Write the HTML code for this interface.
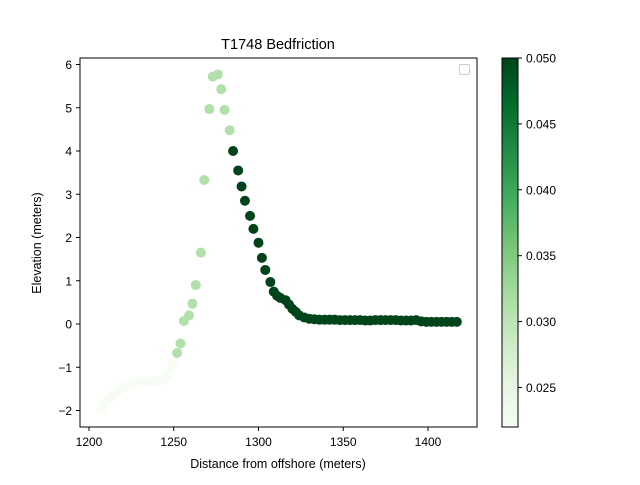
<!DOCTYPE html>
<html><head><meta charset="utf-8"><style>body{margin:0;background:#fff}svg{font-family:"Liberation Sans","DejaVu Sans",sans-serif}</style></head>
<body>
<svg id="c" width="640" height="480" xmlns="http://www.w3.org/2000/svg">
<defs><linearGradient id="g" x1="0" y1="1" x2="0" y2="0">
<stop offset="0" stop-color="#f7fcf5"/><stop offset="0.125" stop-color="#e5f5e0"/><stop offset="0.25" stop-color="#c7e9c0"/><stop offset="0.375" stop-color="#a1d99b"/><stop offset="0.5" stop-color="#74c476"/><stop offset="0.625" stop-color="#41ab5d"/><stop offset="0.75" stop-color="#238b45"/><stop offset="0.875" stop-color="#006d2c"/><stop offset="1" stop-color="#00441b"/></linearGradient></defs>
<text x="278" y="49" font-size="14.5" text-anchor="middle">T1748 Bedfriction</text>
<g id="pts"></g>
<rect x="80" y="58" width="397" height="369" fill="none" stroke="#000" stroke-width="1"/>
<rect x="459.5" y="64.5" width="10" height="10" rx="1.5" fill="#fff" stroke="#ccc"/>
<g id="ax"></g>
<text x="278" y="468" font-size="12.5" text-anchor="middle">Distance from offshore (meters)</text>
<text transform="translate(41,243) rotate(-90)" font-size="12.5" text-anchor="middle">Elevation (meters)</text>
<rect x="502" y="58" width="16" height="369" fill="url(#g)" stroke="#000" stroke-width="1"/>
<g id="cb"></g>
</svg>
<script>
const xs=[1207,1209,1211,1214,1217,1220,1224,1228,1232,1236,1240,1243,1246,1248,1250,
1252,1254,1256,1259,1261,1263,1266,1268,1271,1273,1276,1278,1280,1283,
1285,1288,1290,1292,1295,1297,1300,1302,1304,1307,1309,1311,1313,1316,1318,1320,1322,1324,1327,1330,
1333,1336,1339,1342,1345,1348,1351,1354,1357,1360,1363,1366,1369,1372,1375,1378,1381,1384,1387,1390,1393,1396,1399,1402,1405,1408,1411,1414,1417];
const ys=[-1.98,-1.85,-1.75,-1.65,-1.55,-1.45,-1.4,-1.35,-1.33,-1.33,-1.33,-1.3,-1.2,-1.05,-0.88,
-0.67,-0.45,0.07,0.2,0.47,0.9,1.65,3.33,4.97,5.72,5.77,5.43,4.95,4.48,
4.0,3.55,3.18,2.85,2.5,2.2,1.88,1.53,1.25,0.97,0.75,0.65,0.6,0.55,0.45,0.35,0.28,0.2,0.15,0.12,
0.11,0.1,0.1,0.1,0.1,0.09,0.09,0.09,0.09,0.09,0.08,0.08,0.09,0.09,0.09,0.09,0.09,0.08,0.08,0.08,0.09,0.06,0.05,0.05,0.05,0.05,0.05,0.05,0.05];
const fr=[0.022,0.022,0.022,0.022,0.022,0.022,0.022,0.022,0.022,0.022,0.022,0.022,0.022,0.022,0.022,
0.031,0.031,0.031,0.031,0.031,0.031,0.031,0.031,0.031,0.031,0.031,0.031,0.031,0.031];
const xTicks=[1200,1250,1300,1350,1400];
const yTicks=[-2,-1,0,1,2,3,4,5,6];
const cTicks=[0.025,0.030,0.035,0.040,0.045,0.050];
const X=v=>89+(v-1200)*84.75/50, Y=v=>324-v*43.25, C=v=>427-(v-0.022)*(369/0.028);
const stops=[[247,252,245],[229,245,224],[199,233,192],[161,217,155],[116,196,118],[65,171,93],[35,139,69],[0,109,44],[0,68,27]];
function col(f){let t=Math.max(0,Math.min(1,(f-0.022)/0.028))*8,i=Math.min(7,Math.floor(t)),u=t-i;
return 'rgb('+stops[i].map((a,k)=>Math.round(a+(stops[i+1][k]-a)*u)).join(',')+')';}
const NS='http://www.w3.org/2000/svg';
function mk(tag,at,parent,txt){const e=document.createElementNS(NS,tag);for(const k in at)e.setAttribute(k,at[k]);if(txt!==undefined)e.textContent=txt;document.getElementById(parent).appendChild(e);return e;}
xs.forEach((x,i)=>{const f=i<fr.length?fr[i]:0.05;
const e=mk('circle',{cx:X(x),cy:Y(ys[i]),r:5,fill:col(f)},'pts');

});
xTicks.forEach(v=>{const l=mk('line',{x1:X(v),x2:X(v),y1:427,y2:431,stroke:'#000'},'ax');


const t=mk('text',{x:X(v),y:446,'font-size':12,'text-anchor':'middle'},'ax',v);

});
yTicks.forEach(v=>{const l=mk('line',{x1:76,x2:80,y1:Y(v),y2:Y(v),stroke:'#000'},'ax');


const t=mk('text',{x:72,y:Y(v)+4.5,'font-size':12,'text-anchor':'end'},'ax',v<0?'\u2212'+(-v):v);

});
cTicks.forEach(v=>{const l=mk('line',{x1:518,x2:522,y1:C(v),y2:C(v),stroke:'#000'},'cb');


const t=mk('text',{x:526,y:C(v)+4.5,'font-size':12},'cb',v.toFixed(3));

});
</script>
</body></html>
